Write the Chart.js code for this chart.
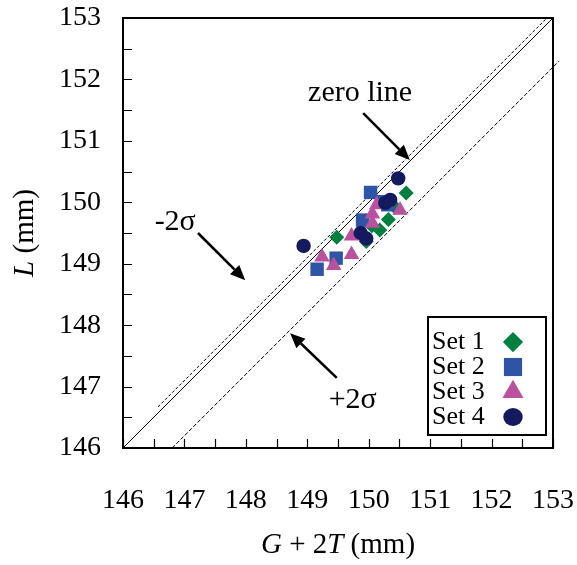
<!DOCTYPE html>
<html lang="en">
<head>
<meta charset="UTF-8">
<title>L vs G + 2T</title>
<script src="https://cdn.jsdelivr.net/npm/chart.js"></script>
<style>
  html, body { margin: 0; padding: 0; background: #fff; }
  .wrap { width: 577px; height: 565px; position: relative; }
</style>
</head>
<body>
<div class="wrap"><canvas id="chart" width="577" height="565"></canvas></div>
<script>
// axis range and tick labels (mm)
const axisMin = 146;
const axisMax = 153;
const tickStep = 0.5;

// measured points: x = G + 2T, y = L (mm)
const set1X = [150.61, 150.43, 150.32, 150.18, 149.96, 149.48, 150.05];
const set1Y = [150.15, 149.92, 149.72, 149.55, 149.36, 149.43, 149.62];
const set2X = [150.03, 150.21, 150.31, 149.90, 149.47, 149.16];
const set2Y = [150.16, 150.01, 149.96, 149.71, 149.09, 148.91];
const set3X = [150.13, 150.06, 150.06, 150.51, 149.72, 149.72, 149.24, 149.43];
const set3Y = [149.96, 149.81, 149.66, 149.87, 149.45, 149.15, 149.11, 148.97];
const set4X = [150.48, 150.35, 150.27, 149.87, 149.96, 148.94];
const set4Y = [150.39, 150.04, 149.99, 149.50, 149.41, 149.29];

// reference lines
const zeroLineX = [146, 153];
const zeroLineY = [146, 153];
const minus2sX = [146.57, 152.9];
const minus2sY = [146.67, 153.0];
const plus2sX = [146.8, 153.1];
const plus2sY = [146.0, 152.3];

const serif = "'Liberation Serif', 'Times New Roman', serif";

function pts(xs, ys) {
    return xs.map((x, i) => ({ x: x, y: ys[i] }));
}

function markerSet(label, xs, ys, color, style, radius, order) {
    return {
        label: label,
        data: pts(xs, ys),
        backgroundColor: color,
        borderColor: color,
        borderWidth: 0,
        pointStyle: style,
        pointRadius: radius,
        pointHoverRadius: radius,
        showLine: false,
        order: order
    };
}

function refLine(label, xs, ys, dash) {
    return {
        label: label,
        data: pts(xs, ys),
        showLine: true,
        borderColor: '#000',
        borderWidth: 1,
        borderDash: dash,
        pointRadius: 0,
        fill: false,
        clip: false,
        order: 10,
        isRef: true
    };
}

// frame + inward tick marks
const framePlugin = {
    id: 'frame',
    afterDatasetsDraw(chart) {
        const { ctx, chartArea: a, scales } = chart;
        ctx.save();
        ctx.strokeStyle = '#000';
        ctx.lineWidth = 1.2;
        ctx.beginPath();
        scales.x.ticks.forEach(t => {
            const px = Math.round(scales.x.getPixelForValue(t.value)) + 0.5;
            ctx.moveTo(px, a.bottom);
            ctx.lineTo(px, a.bottom - 9);
        });
        scales.y.ticks.forEach(t => {
            const py = Math.round(scales.y.getPixelForValue(t.value)) + 0.5;
            ctx.moveTo(a.left, py);
            ctx.lineTo(a.left + 9, py);
        });
        ctx.stroke();
        ctx.lineWidth = 2;
        ctx.strokeRect(a.left, a.top, a.right - a.left, a.bottom - a.top);
        ctx.restore();
    }
};

function arrow(ctx, x1, y1, x2, y2) {
    const ang = Math.atan2(y2 - y1, x2 - x1);
    const head = 15, half = 6.5;
    const bx = x2 - head * Math.cos(ang), by = y2 - head * Math.sin(ang);
    ctx.beginPath();
    ctx.moveTo(x1, y1);
    ctx.lineTo(bx, by);
    ctx.stroke();
    ctx.beginPath();
    ctx.moveTo(x2, y2);
    ctx.lineTo(bx + half * Math.sin(ang), by - half * Math.cos(ang));
    ctx.lineTo(bx - half * Math.sin(ang), by + half * Math.cos(ang));
    ctx.closePath();
    ctx.fill();
}

// legend marker, a bit larger than the plotted points
function marker(ctx, style, r, x, y) {
    ctx.beginPath();
    if (style === 'rectRot') {
        ctx.moveTo(x, y - r); ctx.lineTo(x + r, y); ctx.lineTo(x, y + r); ctx.lineTo(x - r, y);
    } else if (style === 'rect') {
        const s = r * Math.SQRT1_2;
        ctx.rect(x - s, y - s, 2 * s, 2 * s);
    } else if (style === 'triangle') {
        const h = r * 0.866;
        ctx.moveTo(x, y - r); ctx.lineTo(x + h, y + r / 2); ctx.lineTo(x - h, y + r / 2);
    } else {
        ctx.ellipse(x, y, r, r * 0.92, 0, 0, Math.PI * 2);
    }
    ctx.closePath();
    ctx.fill();
}

// mixed italic / upright text, centered at (x, y)
function richText(ctx, parts, x, y, size) {
    const fonts = parts.map(p => (p[1] ? 'italic ' : '') + size + 'px ' + serif);
    let total = 0;
    const widths = parts.map((p, i) => { ctx.font = fonts[i]; const w = ctx.measureText(p[0]).width; total += w; return w; });
    let cx = x - total / 2;
    ctx.textAlign = 'left';
    ctx.textBaseline = 'middle';
    parts.forEach((p, i) => {
        ctx.font = fonts[i];
        ctx.fillText(p[0], cx, y);
        cx += widths[i];
    });
}

// axis titles, annotations with arrows, legend box
const extrasPlugin = {
    id: 'extras',
    afterDraw(chart) {
        const { ctx, chartArea: a, scales } = chart;
        const X = v => scales.x.getPixelForValue(v);
        const Y = v => scales.y.getPixelForValue(v);
        ctx.save();
        ctx.fillStyle = '#000';
        ctx.strokeStyle = '#000';

        richText(ctx, [['G', true], [' + 2', false], ['T', true], [' (mm)', false]], (a.left + a.right) / 2, 545, 29);
        ctx.save();
        ctx.translate(25, (a.top + a.bottom) / 2);
        ctx.rotate(-Math.PI / 2);
        richText(ctx, [['L', true], [' (mm)', false]], 0, 0, 29);
        ctx.restore();

        ctx.font = '30px ' + serif;
        ctx.textAlign = 'center';
        ctx.textBaseline = 'middle';
        ctx.fillText('zero line', X(149.86), Y(151.78));
        ctx.fillText('-2σ', X(146.85), Y(149.68));
        ctx.fillText('+2σ', X(149.74), Y(146.78));
        ctx.lineWidth = 2.5;
        arrow(ctx, X(149.91), Y(151.45), X(150.67), Y(150.69));
        arrow(ctx, X(147.22), Y(149.50), X(147.99), Y(148.73));
        arrow(ctx, X(149.48), Y(147.14), X(148.72), Y(147.87));

        // legend
        const sets = chart.data.datasets.filter(d => !d.isRef);
        const bx = a.right - 125, by = a.bottom - 131, bw = 118, bh = 118;
        ctx.fillStyle = '#fff';
        ctx.fillRect(bx, by, bw, bh);
        ctx.lineWidth = 2;
        ctx.strokeRect(bx, by, bw, bh);
        ctx.font = '26px ' + serif;
        ctx.textAlign = 'left';
        ctx.textBaseline = 'middle';
        sets.forEach((d, i) => {
            const ry = by + 25 + i * 25;
            ctx.fillStyle = '#000';
            ctx.fillText(d.label, bx + 4, ry);
            ctx.fillStyle = d.backgroundColor;
            marker(ctx, d.pointStyle, d.pointRadius * 1.35, bx + 85, ry);
        });
        ctx.restore();
    }
};

new Chart(document.getElementById('chart'), {
    type: 'scatter',
    data: {
        datasets: [
            markerSet('Set 1', set1X, set1Y, '#00803f', 'rectRot', 7.5, 4),
            markerSet('Set 2', set2X, set2Y, '#2e54a6', 'rect', 9.5, 3),
            markerSet('Set 3', set3X, set3Y, '#b9519f', 'triangle', 9, 2),
            markerSet('Set 4', set4X, set4Y, '#141a5e', 'circle', 7.2, 1),
            refLine('zero line', zeroLineX, zeroLineY, []),
            refLine('-2σ', minus2sX, minus2sY, [3, 2]),
            refLine('+2σ', plus2sX, plus2sY, [4, 2])
        ]
    },
    options: {
        responsive: false,
        animation: false,
        layout: { padding: { top: 18, right: 24, left: 0, bottom: 0 } },
        plugins: {
            legend: { display: false },
            tooltip: { enabled: false }
        },
        scales: {
            x: {
                type: 'linear',
                min: axisMin,
                max: axisMax,
                grid: { display: false, drawTicks: false },
                border: { display: false },
                ticks: {
                    stepSize: tickStep,
                    autoSkip: false,
                    maxRotation: 0,
                    padding: 36,
                    color: '#000',
                    font: { family: serif, size: 28 },
                    callback: v => (v % 1 === 0 ? v : '')
                },
                afterFit: s => { s.height = 117; s.paddingLeft = 0; s.paddingRight = 0; }
            },
            y: {
                type: 'linear',
                min: axisMin,
                max: axisMax,
                grid: { display: false, drawTicks: false },
                border: { display: false },
                ticks: {
                    stepSize: tickStep,
                    autoSkip: false,
                    padding: 22,
                    color: '#000',
                    font: { family: serif, size: 28 },
                    callback: v => (v % 1 === 0 ? v : '')
                },
                afterFit: s => { s.width = 123; s.paddingTop = 0; s.paddingBottom = 0; }
            }
        }
    },
    plugins: [framePlugin, extrasPlugin]
});
</script>
</body>
</html>
